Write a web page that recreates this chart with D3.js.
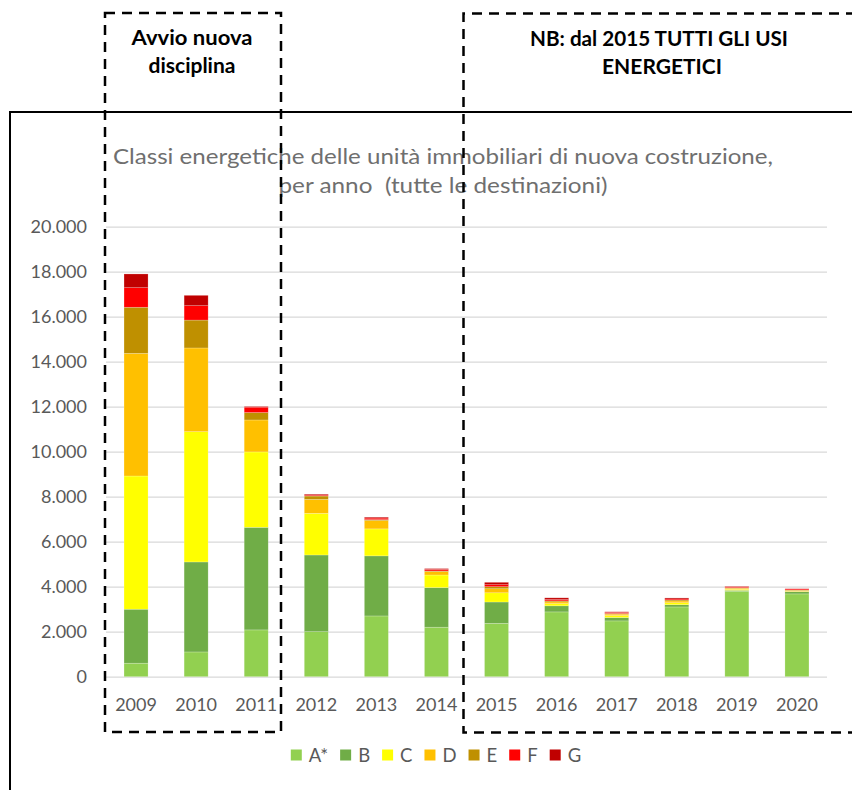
<!DOCTYPE html>
<html>
<head>
<meta charset="UTF-8">
<title>Classi energetiche</title>
<script src="https://d3js.org/d3.v7.min.js"></script>
<style>
  body { margin:0; background:#fff; }
  svg text { font-family: Lato, "Open Sans", sans-serif; }
</style>
</head>
<body>
<div id="chart"></div>
<script>
// data
const years = ['2009','2010','2011','2012','2013','2014','2015','2016','2017','2018','2019','2020'];
const classes = ['A*','B','C','D','E','F','G'];
const classA = [600, 1100, 2080, 2000, 2700, 2200, 2370, 2880, 2480, 3100, 3800, 3680];
const classB = [2400, 4000, 4560, 3410, 2670, 1760, 950, 270, 150, 100, 40, 100];
const classC = [5920, 5790, 3350, 1850, 1200, 560, 410, 100, 90, 90, 45, 15];
const classD = [5450, 3720, 1420, 620, 370, 150, 180, 75, 60, 75, 45, 35];
const classE = [2050, 1240, 330, 150, 40, 30, 90, 45, 30, 45, 25, 25];
const classF = [870, 640, 240, 40, 70, 70, 90, 60, 50, 45, 40, 45];
const classG = [610, 460, 30, 40, 40, 35, 105, 75, 25, 45, 25, 10];
const yTicks = [0, 2000, 4000, 6000, 8000, 10000, 12000, 14000, 16000, 18000, 20000];
const colors = ['#92D050','#70AD47','#FFFF00','#FFC000','#BF9000','#FF0000','#C00000'];

const W = 852, H = 790;
const svg = d3.select('#chart').append('svg').attr('width', W).attr('height', H);

const table = years.map((yr,i) => ({
  year: yr, 'A*': classA[i], B: classB[i], C: classC[i], D: classD[i], E: classE[i], F: classF[i], G: classG[i]
}));

const x = d3.scaleBand().domain(years).range([106, 827]).paddingInner(0.6).paddingOuter(0.3);
const y = d3.scaleLinear().domain([0, 20000]).range([676.7, 226.7]);
const fmt = d3.format(',');

// frame of the chart (cropped)
svg.append('line').attr('x1',9).attr('x2',W).attr('y1',112).attr('y2',112)
  .attr('stroke','#000').attr('stroke-width',2);
svg.append('line').attr('x1',10).attr('x2',10).attr('y1',111).attr('y2',H)
  .attr('stroke','#000').attr('stroke-width',2);

// title
const title = svg.append('text').attr('text-anchor','middle').attr('fill','#6f6f6f')
  .attr('font-size',21).style('white-space','pre');
title.append('tspan').attr('x',443).attr('y',164).attr('textLength',660).attr('lengthAdjust','spacingAndGlyphs')
  .text('Classi energetiche delle unità immobiliari di nuova costruzione,');
title.append('tspan').attr('x',443).attr('y',193).attr('textLength',329).attr('lengthAdjust','spacingAndGlyphs')
  .text('per anno  (tutte le destinazioni)');

// grid + y axis
const yAxis = d3.axisLeft(y).tickValues(yTicks).tickSize(-(827-106))
  .tickFormat(d => fmt(d).replace(/,/g,'.'));
const gy = svg.append('g').attr('transform','translate(106,0)').call(yAxis);
gy.select('.domain').remove();
gy.selectAll('.tick line').attr('stroke','#d9d9d9').attr('stroke-width',1.3);
gy.selectAll('.tick text').attr('x',-19).attr('fill','#595959').attr('font-size',18).attr('font-family','Lato');

// stacked bars
const series = d3.stack().keys(classes)(table);
svg.append('g').selectAll('g').data(series).join('g')
  .attr('fill', (d,i) => colors[i])
  .selectAll('rect').data(d => d).join('rect')
  .attr('x', d => x(d.data.year))
  .attr('width', x.bandwidth())
  .attr('y', d => y(d[1]))
  .attr('height', d => y(d[0]) - y(d[1]))
  .attr('stroke','#fff').attr('stroke-opacity',0.35).attr('stroke-width',0.6);

// x axis
const xAxis = d3.axisBottom(x).tickSize(0).tickPadding(0);
const gx = svg.append('g').attr('transform','translate(0,676.7)').call(xAxis);
gx.select('.domain').remove();
gx.selectAll('.tick text').attr('y',34).attr('dy',0).attr('fill','#595959').attr('font-size',18).attr('font-family','Lato');

// legend
const leg = svg.append('g');
const items = leg.selectAll('g').data(classes).join('g');
items.append('rect').attr('width',11).attr('height',11).attr('y',749.5).attr('fill',(d,i)=>colors[i]);
items.append('text').attr('x',18).attr('y',761.5).attr('fill','#595959').attr('font-size',18.5).text(d=>d);
let lx = 0;
const pos = [];
items.each(function(){
  pos.push(lx);
  lx += 18 + d3.select(this).select('text').node().getComputedTextLength() + 12;
});
const start = 436 - (lx - 12)/2;
items.attr('transform',(d,i)=>`translate(${start+pos[i]},0)`);

// annotation boxes
const dash = '10,7';
svg.append('rect').attr('x',105).attr('y',13).attr('width',176).attr('height',719)
  .attr('fill','none').attr('stroke','#000').attr('stroke-width',2.5).attr('stroke-dasharray',dash);
svg.append('path').attr('d','M 856 13.5 H 463.5 V 732.5 H 856')
  .attr('fill','none').attr('stroke','#000').attr('stroke-width',2.5).attr('stroke-dasharray',dash);

const h1 = svg.append('text').attr('text-anchor','middle').attr('fill','#000').attr('font-weight','bold').attr('font-size',21);
h1.append('tspan').attr('x',192).attr('y',45).attr('textLength',121).attr('lengthAdjust','spacingAndGlyphs').text('Avvio nuova');
h1.append('tspan').attr('x',192).attr('y',73).text('disciplina');
const h2 = svg.append('text').attr('text-anchor','middle').attr('fill','#000').attr('font-weight','bold').attr('font-size',21);
h2.append('tspan').attr('x',659).attr('y',46).attr('textLength',258).attr('lengthAdjust','spacingAndGlyphs').text('NB: dal 2015 TUTTI GLI USI');
h2.append('tspan').attr('x',662).attr('y',74).text('ENERGETICI');
</script>
</body>
</html>
